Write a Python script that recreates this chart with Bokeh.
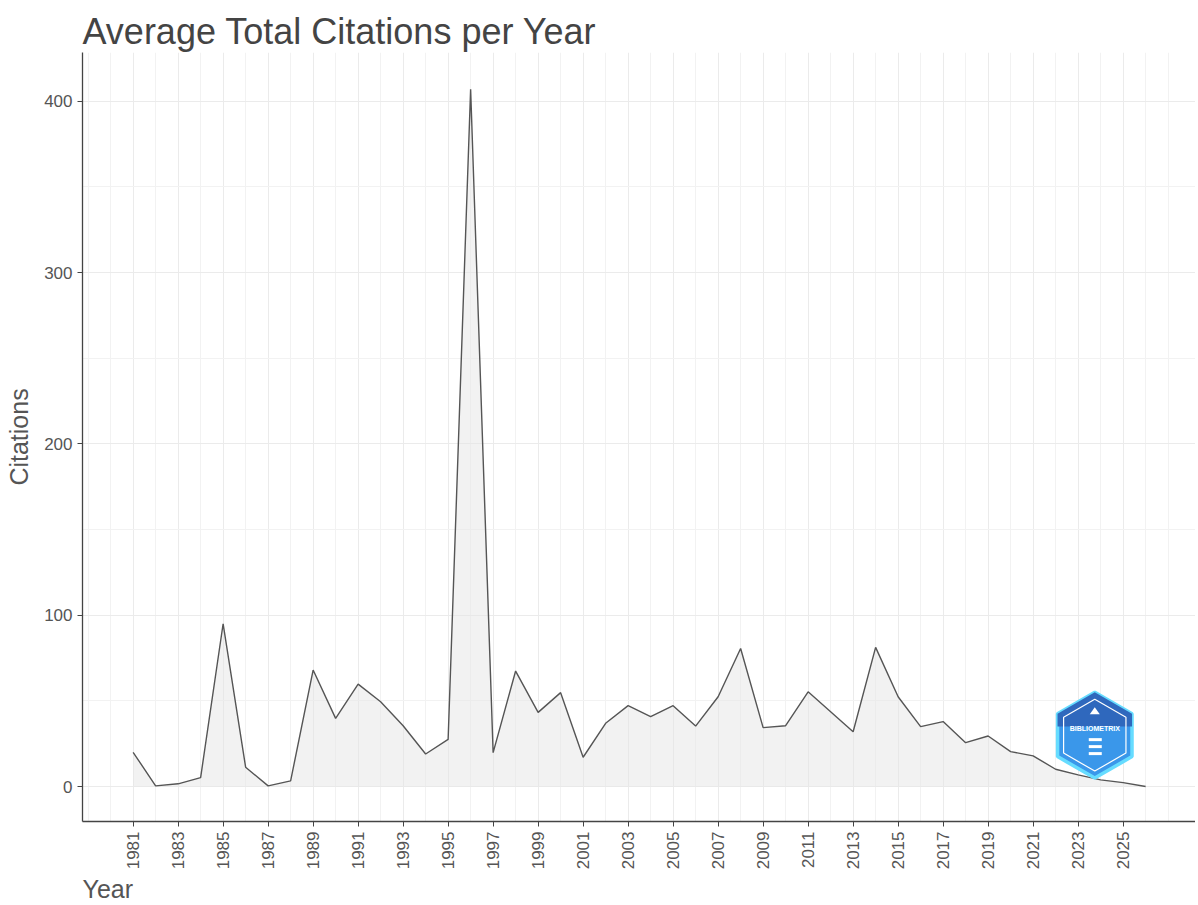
import math
from bokeh.plotting import figure
from bokeh.models import Range1d, FixedTicker, Title, ColumnDataSource
from bokeh.embed import file_html
from bokeh.resources import INLINE
from bokeh.core.properties import value

# ---- data ----
years = list(range(1981, 2027))
citations = [20, 0.4, 1.6, 5.2, 95, 11.3, 0.4, 3.3, 68, 39.8,
             59.8, 49.5, 35.5, 19, 27.5, 407, 19.8, 67.4, 43.3, 54.8,
             17.1, 36.9, 47.2, 40.8, 47.2, 35.3, 52.4, 80.6, 34.4, 35.5,
             55.3, 43.7, 32, 81.2, 52.4, 35, 37.9, 25.6, 29.5, 20.4,
             17.9, 10.1, 6.8, 3.9, 2.3, 0]
x_ticks = list(range(1981, 2026, 2))
x_minor = [1979, 1980] + list(range(1982, 2025, 2)) + [2026, 2027]
y_ticks = [0, 100, 200, 300, 400]
y_minor = [50, 150, 250, 350]

FONT = "Liberation Sans"

W, H = 1195, 903
left, top, bottom = 82, 52, 82
frame_w = W - left
x0 = 1978.75
px_per_year = 22.5
x1 = x0 + frame_w / px_per_year

p = figure(width=W, height=H, output_backend="svg", toolbar_location=None,
           x_range=Range1d(x0, x1), y_range=Range1d(-20.4, 428.4),
           min_border_left=left, min_border_right=0,
           min_border_top=top, min_border_bottom=bottom,
           background_fill_color="white", border_fill_color="white")
p.outline_line_color = None

# title
p.title.text = "Average Total Citations per Year"
p.title.text_font = FONT
p.title.text_font_size = "36px"
p.title.text_font_style = "normal"
p.title.text_color = "#444444"
p.title.align = "left"
p.title.offset = 0
p.title.standoff = 2

src = ColumnDataSource(dict(year=years, cit=citations, zero=[0] * len(years)))
p.varea(x="year", y1="zero", y2="cit", source=src, fill_color="#e5e5e5", fill_alpha=0.5)
p.line(x="year", y="cit", source=src, line_color="#555555", line_width=1.4)

# axes
xa = p.xaxis[0]
xa.ticker = FixedTicker(ticks=x_ticks, minor_ticks=x_minor)
xa.major_label_orientation = math.pi / 2
ya = p.yaxis[0]
ya.ticker = FixedTicker(ticks=y_ticks, minor_ticks=y_minor)
ya.axis_label = "Citations"
ya.axis_label_text_font = FONT
ya.axis_label_text_font_size = "25px"
ya.axis_label_text_font_style = "normal"
ya.axis_label_text_color = "#555555"
ya.axis_label_standoff = 8
for ax in (xa, ya):
    ax.axis_line_color = "#444444"
    ax.axis_line_width = 1.3
    ax.major_tick_line_color = "#444444"
    ax.major_tick_in = 0
    ax.major_tick_out = 5
    ax.minor_tick_line_color = None
    ax.major_label_text_font = FONT
    ax.major_label_text_font_size = "17px"
    ax.major_label_text_color = "#555555"
    ax.major_label_standoff = 5

# grid
for g in (p.xgrid[0], p.ygrid[0]):
    g.grid_line_color = "#ebebeb"
    g.grid_line_width = 1
    g.minor_grid_line_color = "#f2f2f2"
    g.minor_grid_line_width = 1

# x-axis title, left aligned below the axis
p.add_layout(Title(text="Year", align="left", text_font=FONT, text_font_size="25px",
                   text_font_style="normal", text_color="#555555", offset=0, standoff=0), "below")

# ---- decorative logo (hexagon badge) ----
cx, cy = 2023.74, 30.0
py_per_unit = 1.717
def hexagon(r_px):
    xs, ys = [], []
    for k in range(6):
        a = math.radians(90 + 60 * k)
        xs.append(cx + r_px * math.cos(a) / px_per_year)
        ys.append(cy + r_px * math.sin(a) / py_per_unit)
    return xs, ys

hx, hy = hexagon(43)
p.patch(hx, hy, fill_color="#3a97ea", line_color="#66dcff", line_width=3.5)
top_x = [hx[0], hx[1], hx[1] + (hx[2] - hx[1]) * 0.3, hx[5] + (hx[4] - hx[5]) * 0.3, hx[5]]
top_y = [hy[0], hy[1], hy[1] + (hy[2] - hy[1]) * 0.3, hy[5] + (hy[4] - hy[5]) * 0.3, hy[5]]
p.patch(top_x, top_y, fill_color="#2f68bd", line_color=None)
ix, iy = hexagon(36)
p.patch(ix, iy, fill_color=None, line_color="white", line_width=1.2)
p.text(x=[cx], y=[cy + 7 / py_per_unit], text=["BIBLIOMETRIX"], text_font=value(FONT),
       text_font_size="7px", text_font_style="bold", text_color="white",
       text_align="center", text_baseline="middle")
for k in range(3):
    yy = cy - (3 + 7 * k) / py_per_unit
    p.quad(left=[cx - 6 / px_per_year], right=[cx + 7 / px_per_year],
           top=[yy], bottom=[yy - 3 / py_per_unit], fill_color="white", line_color=None)
p.patch([cx - 5 / px_per_year, cx, cx + 5 / px_per_year],
        [cy + 21 / py_per_unit, cy + 28 / py_per_unit, cy + 21 / py_per_unit],
        fill_color="white", line_color=None)

open("out.html", "w").write(file_html(p, INLINE))
